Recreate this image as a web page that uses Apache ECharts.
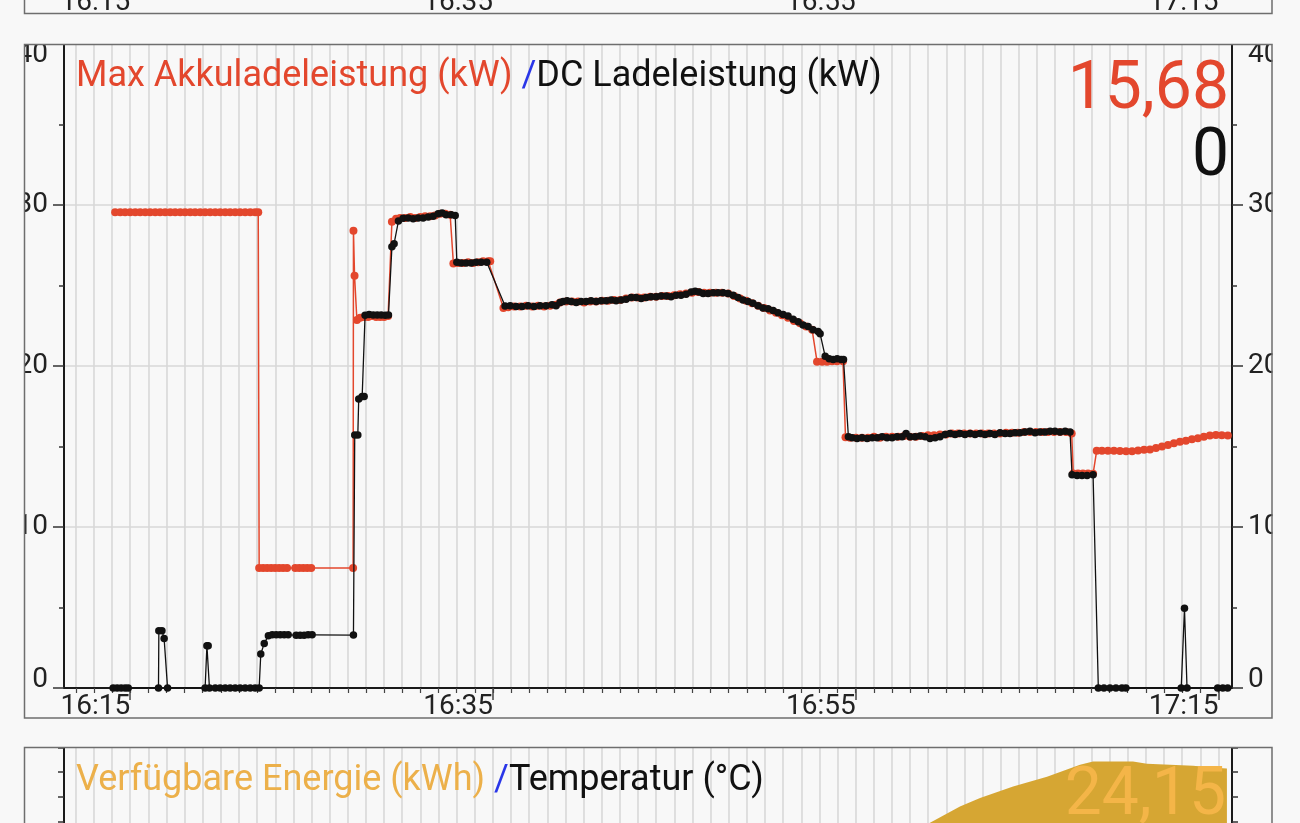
<!DOCTYPE html>
<html>
<head>
<meta charset="utf-8">
<script src="https://cdn.jsdelivr.net/npm/echarts@6/dist/echarts.min.js"></script>
<style>
html,body{margin:0;padding:0;background:#f8f8f8;}
#chart{width:1300px;height:823px;}
</style>
</head>
<body>
<div id="chart"></div>
<script>
// time = minutes after 16:00
const xLabelMinutes = [15, 35, 55, 75];
const legendMax = 'Max Akkuladeleistung (kW) ';
const legendDc = 'DC Ladeleistung (kW)';
const legendEnergy = 'Verfügbare Energie (kWh) ';
const legendTemp = 'Temperatur (°C)';

const maxPower = [
[14.17,29.55],[14.45,29.55],[14.72,29.55],[15.00,29.55],[15.28,29.55],[15.55,29.55],[15.83,29.55],[16.10,29.55],[16.38,29.55],[16.65,29.55],[16.93,29.55],[17.21,29.55],[17.48,29.55],[17.76,29.55],[18.03,29.55],[18.31,29.55],[18.58,29.55],[18.86,29.55],[19.13,29.55],[19.41,29.55],[19.69,29.55],[19.96,29.55],[20.24,29.55],[20.51,29.55],[20.79,29.55],[21.06,29.55],[21.34,29.55],[21.62,29.55],[21.89,29.55],[22.06,29.55],
[22.11,7.45],[22.33,7.45],[22.55,7.45],[22.77,7.45],[22.99,7.45],[23.21,7.45],[23.43,7.45],[23.65,7.45],[24.10,7.45],[24.32,7.45],[24.54,7.45],[24.76,7.45],[24.98,7.45],[27.29,7.45],
[27.31,28.4],[27.37,25.6],[27.50,22.86],[27.68,23.0],[27.90,23.05],[28.12,23.05],[28.34,23.1],[28.56,23.05],[28.78,23.05],[29.00,23.05],[29.22,23.1],
[29.43,28.96],[29.66,29.15],[29.88,29.2],[30.16,29.2],[30.44,29.25],[30.71,29.2],[30.99,29.25],[31.26,29.3],[31.54,29.3],[31.81,29.35],[32.09,29.45],[32.37,29.45],[32.64,29.4],
[32.82,26.37],[33.08,26.4],[33.36,26.4],[33.63,26.45],[33.91,26.4],[34.18,26.45],[34.46,26.5],[34.74,26.5],[34.85,26.5],
[35.58,23.6],[35.84,23.65],[36.17,23.7],[36.50,23.7],[36.83,23.75],[37.16,23.7],[37.49,23.75],[37.82,23.7],[38.15,23.75],[38.48,23.8],[38.70,23.95],[39.04,24.0],[39.37,24.0],[39.70,24.0],[40.03,23.95],[40.36,24.0],[40.69,24.0],[41.02,24.05],[41.35,24.05],[41.68,24.1],[42.01,24.1],[42.34,24.2],[42.67,24.25],[43.00,24.25],[43.34,24.25],[43.67,24.3],[44.00,24.3],[44.33,24.35],[44.66,24.35],[44.99,24.4],[45.32,24.45],[45.65,24.5],[45.98,24.55],[46.31,24.6],[46.64,24.55],[46.97,24.55],[47.30,24.55],[47.63,24.55],[47.97,24.5],[48.30,24.35],[48.63,24.2],[48.96,24.05],[49.29,23.9],[49.62,23.75],[49.95,23.6],[50.28,23.45],[50.61,23.3],[50.94,23.15],[51.27,23.0],[51.60,22.8],[51.93,22.65],[52.27,22.45],[52.60,22.25],
[52.87,20.27],[53.15,20.27],[53.42,20.27],[53.70,20.3],[53.97,20.3],[54.30,20.3],
[54.44,15.57],[54.69,15.55],[55.02,15.55],[55.35,15.55],[55.68,15.55],[56.01,15.6],[56.34,15.55],[56.68,15.6],[57.01,15.6],[57.34,15.6],[57.67,15.65],[58.00,15.6],[58.33,15.6],[58.66,15.65],[58.99,15.7],[59.32,15.7],[59.65,15.75],[59.98,15.75],[60.31,15.8],[60.64,15.8],[60.98,15.8],[61.31,15.8],[61.64,15.8],[61.97,15.8],[62.30,15.8],[62.63,15.8],[62.96,15.8],[63.29,15.85],[63.62,15.85],[63.95,15.85],[64.28,15.9],[64.61,15.9],[64.94,15.9],[65.28,15.9],[65.61,15.9],[65.94,15.9],[66.27,15.9],[66.60,15.9],[66.91,15.8],
[67.00,13.33],[67.26,13.33],[67.53,13.33],[67.81,13.33],[68.09,13.3],
[68.29,14.74],[68.58,14.74],[68.91,14.74],[69.24,14.74],[69.57,14.72],[69.91,14.7],[70.24,14.7],[70.57,14.75],[70.90,14.8],[71.23,14.82],[71.56,14.9],[71.89,15.0],[72.22,15.1],[72.55,15.2],[72.88,15.3],[73.21,15.36],[73.54,15.45],[73.87,15.52],[74.20,15.6],[74.53,15.68],[74.86,15.72],[75.19,15.7],[75.52,15.68]
];

const dcPower = [
[14.06,0],[14.28,0],[14.50,0],[14.72,0],[14.89,0],[16.56,0],[16.58,3.56],[16.75,3.56],[16.87,3.08],[17.06,0],[19.13,0],[19.23,2.63],[19.30,2.63],[19.37,0],[19.69,0],[19.96,0],[20.24,0],[20.51,0],[20.79,0],[21.06,0],[21.34,0],[21.62,0],[21.89,0],[22.11,0],
[22.20,2.11],[22.39,2.77],[22.62,3.25],[22.83,3.3],[23.05,3.3],[23.27,3.3],[23.49,3.3],[23.71,3.3],[24.15,3.28],[24.37,3.28],[24.59,3.28],[24.81,3.3],[25.03,3.3],[27.31,3.29],
[27.38,15.71],[27.55,15.71],[27.60,17.95],[27.79,18.1],[27.90,18.1],[27.95,23.15],[28.17,23.2],[28.40,23.17],[28.62,23.17],[28.84,23.17],[29.06,23.15],[29.24,23.17],
[29.43,27.4],[29.55,27.6],[29.79,29.0],[30.05,29.17],[30.33,29.2],[30.60,29.15],[30.88,29.2],[31.15,29.2],[31.43,29.25],[31.70,29.3],[31.98,29.45],[32.20,29.5],[32.42,29.4],[32.70,29.4],[32.92,29.35],
[33.01,26.44],[33.25,26.4],[33.52,26.4],[33.80,26.4],[34.07,26.45],[34.35,26.45],[34.66,26.44],
[35.67,23.73],[35.95,23.75],[36.28,23.7],[36.61,23.7],[36.94,23.75],[37.27,23.7],[37.60,23.75],[37.93,23.75],[38.26,23.8],[38.48,23.75],[38.70,23.95],[38.87,24.0],[39.09,24.05],[39.31,24.0],[39.59,23.95],[39.86,24.0],[40.14,24.0],[40.41,24.05],[40.69,24.0],[40.96,24.05],[41.24,24.05],[41.52,24.1],[41.79,24.05],[42.07,24.1],[42.34,24.15],[42.62,24.25],[42.89,24.25],[43.17,24.2],[43.45,24.25],[43.72,24.3],[44.00,24.3],[44.27,24.35],[44.55,24.35],[44.82,24.3],[45.10,24.4],[45.37,24.4],[45.65,24.45],[45.93,24.6],[46.15,24.65],[46.37,24.6],[46.59,24.5],[46.86,24.5],[47.14,24.55],[47.41,24.55],[47.69,24.55],[47.96,24.5],[48.24,24.4],[48.51,24.25],[48.79,24.1],[49.07,24.0],[49.34,23.9],[49.62,23.75],[49.89,23.6],[50.17,23.55],[50.45,23.45],[50.72,23.3],[51.00,23.2],[51.27,23.1],[51.55,22.9],[51.83,22.75],[52.10,22.55],[52.38,22.45],[52.65,22.25],[52.93,22.15],[53.04,22.0],
[53.32,20.6],[53.54,20.45],[53.76,20.4],[53.98,20.45],[54.20,20.4],[54.33,20.4],
[54.60,15.6],[54.81,15.55],[55.08,15.5],[55.35,15.55],[55.63,15.5],[55.91,15.55],[56.18,15.55],[56.46,15.6],[56.73,15.55],[57.01,15.55],[57.28,15.6],[57.56,15.6],[57.78,15.8],[58.00,15.6],[58.27,15.6],[58.55,15.65],[58.83,15.6],[59.10,15.5],[59.38,15.55],[59.65,15.6],[59.93,15.75],[60.20,15.8],[60.48,15.75],[60.75,15.8],[61.03,15.75],[61.31,15.8],[61.58,15.75],[61.86,15.8],[62.13,15.75],[62.41,15.8],[62.68,15.75],[62.96,15.85],[63.24,15.8],[63.51,15.8],[63.79,15.85],[64.06,15.85],[64.34,15.9],[64.61,15.95],[64.89,15.85],[65.16,15.9],[65.44,15.9],[65.72,15.95],[65.99,15.95],[66.27,15.9],[66.55,15.95],[66.82,15.9],
[66.93,13.25],[67.21,13.2],[67.48,13.2],[67.76,13.2],[68.09,13.25],
[68.38,0],[68.69,0],[69.02,0],[69.35,0],[69.68,0],[69.90,0],[72.95,0],[73.13,4.95],[73.27,0],[74.96,0],[75.24,0],[75.51,0]
];

const energy = [
[14.06,9.4],[22.11,9.4],[27.31,9.7],[29.43,10.5],[32.92,12.2],[35.67,13.4],[45.0,17.2],[53.04,20.4],[54.60,20.9],[57.0,21.5],[59.10,21.95],[60.75,22.61],[61.86,22.96],[63.68,23.42],[65.55,23.82],[67.37,24.30],[68.09,24.43],[70.29,24.43],[71.06,24.34],[73.60,24.26],[75.24,24.16],[75.47,24.15]
];

const X_MIN = 11.35, X_MAX = 75.75;
const minuteTicks = [];
for (let m = 12; m <= 75; m++) minuteTicks.push(m);

const RED = '#e3472d', BLACK = '#111111', BLUE = '#2a36e8', GOLD = '#d6a633', ORANGE = '#ecb04a';
const BG = '#f8f8f8';
const FONT = 'Roboto, "Noto Sans", sans-serif';

function fmtTime(v) {
  const total = Math.round(v);
  const h = 16 + Math.floor(total / 60);
  const m = total % 60;
  return h + ':' + (m < 10 ? '0' : '') + m;
}
function fmtNum(v) { return String(v).replace('.', ','); }

const chart = echarts.init(document.getElementById('chart'), null, {renderer: 'canvas'});

const yLabelRich = {
  t: {padding: [22, 0, 0, 0], fontSize: 28, color: '#222', fontFamily: FONT},
  b: {padding: [0, 0, 16, 0], fontSize: 28, color: '#222', fontFamily: FONT}
};
function yFmt(v) { return v === 40 ? '{t|40}' : (v === 0 ? '{b|0}' : String(v)); }

const mainY = (pos, showSplit) => ({
  type: 'value', gridIndex: 0, position: pos, min: 0, max: 40, interval: 10,
  axisLine: {show: true, lineStyle: {color: '#1a1a1a', width: 2}},
  axisTick: {show: true, length: 11, lineStyle: {color: '#333', width: 1.5}},
  minorTick: {show: true, splitNumber: 2, length: 5, lineStyle: {color: '#333', width: 1.5}},
  splitLine: {show: showSplit, lineStyle: {color: '#d8d8d8', width: 1.5}},
  axisLabel: {show: true, margin: 16, fontSize: 28, color: '#222', fontFamily: FONT, formatter: yFmt, rich: yLabelRich}
});

const option = {
  backgroundColor: BG,
  animation: false,
  grid: [
    {left: 64, right: 68, top: 44, height: 644, outerBoundsMode: 'none', containLabel: false},
    {left: 64, right: 68, top: 747.5, height: 617.5, outerBoundsMode: 'none', containLabel: false},
    {left: 64, right: 68, top: -100, height: 83, outerBoundsMode: 'none', containLabel: false}
  ],
  xAxis: [
    {type: 'value', gridIndex: 0, min: X_MIN, max: X_MAX,
     axisLine: {show: true, onZero: false, lineStyle: {color: '#1a1a1a', width: 2}},
     axisTick: {show: true, length: 5, customValues: minuteTicks, lineStyle: {color: '#444', width: 1.2}},
     splitLine: {show: true, lineStyle: {color: '#d8d8d8', width: 1.6}},
     axisLabel: {show: true, customValues: xLabelMinutes, formatter: fmtTime, align: 'right', margin: 5,
                 fontSize: 28, color: '#222', fontFamily: FONT}},
    {type: 'value', gridIndex: 0, min: X_MIN, max: X_MAX, position: 'bottom',
     axisLine: {show: false},
     axisTick: {show: true, length: 12, customValues: xLabelMinutes, lineStyle: {color: '#444', width: 1.5}},
     splitLine: {show: false}, axisLabel: {show: false}},
    {type: 'value', gridIndex: 1, min: X_MIN, max: X_MAX,
     axisLine: {show: false},
     axisTick: {show: false, customValues: minuteTicks},
     splitLine: {show: true, lineStyle: {color: '#d8d8d8', width: 1.6}},
     axisLabel: {show: false}},
    {type: 'value', gridIndex: 2, min: X_MIN, max: X_MAX,
     axisLine: {show: false}, axisTick: {show: false}, splitLine: {show: false},
     axisLabel: {show: true, customValues: xLabelMinutes, formatter: fmtTime, align: 'right', margin: 6,
                 fontSize: 28, color: '#222', fontFamily: FONT}}
  ],
  yAxis: [
    mainY('left', true),
    mainY('right', false),
    {type: 'value', gridIndex: 1, position: 'left', min: 0, max: 25, interval: 1,
     axisLine: {show: true, lineStyle: {color: '#1a1a1a', width: 2}},
     axisTick: {show: true, length: 6, lineStyle: {color: '#333', width: 1.5}},
     splitLine: {show: false}, axisLabel: {show: false}},
    {type: 'value', gridIndex: 1, position: 'right', min: 0, max: 25, interval: 1,
     axisLine: {show: true, lineStyle: {color: '#1a1a1a', width: 2}},
     axisTick: {show: true, length: 6, lineStyle: {color: '#333', width: 1.5}},
     splitLine: {show: false}, axisLabel: {show: false}},
    {type: 'value', gridIndex: 2, show: false, min: 0, max: 40}
  ],
  series: [
    {name: 'Max Akkuladeleistung', type: 'line', xAxisIndex: 0, yAxisIndex: 0, data: maxPower,
     symbol: 'circle', symbolSize: 8, showSymbol: true, z: 3,
     lineStyle: {color: RED, width: 1.5}, itemStyle: {color: RED}},
    {name: 'DC Ladeleistung', type: 'line', xAxisIndex: 0, yAxisIndex: 0, data: dcPower,
     symbol: 'circle', symbolSize: 7.5, showSymbol: true, z: 4,
     lineStyle: {color: BLACK, width: 1.3}, itemStyle: {color: BLACK}},
    {name: 'Verfügbare Energie', type: 'line', xAxisIndex: 2, yAxisIndex: 2, data: energy,
     showSymbol: false, z: 3, lineStyle: {width: 0, color: GOLD}, areaStyle: {color: GOLD, opacity: 1}}
  ],
  graphic: [
    // masks outside the panels
    {type: 'rect', z: 90, silent: true, shape: {x: 0, y: 0, width: 24, height: 823}, style: {fill: BG}},
    {type: 'rect', z: 90, silent: true, shape: {x: 1272.5, y: 0, width: 28, height: 823}, style: {fill: BG}},
    {type: 'rect', z: 90, silent: true, shape: {x: 0, y: 13.5, width: 1300, height: 30.5}, style: {fill: BG}},
    {type: 'rect', z: 90, silent: true, shape: {x: 0, y: 718.5, width: 1300, height: 28.5}, style: {fill: BG}},
    // panel borders
    {type: 'rect', z: 100, silent: true, shape: {x: 24.5, y: -50, width: 1247.5, height: 63.5}, style: {fill: null, stroke: '#6e6e6e', lineWidth: 1.5}},
    {type: 'rect', z: 100, silent: true, shape: {x: 24.5, y: 44.5, width: 1247.5, height: 673.5}, style: {fill: null, stroke: '#6e6e6e', lineWidth: 1.5}},
    {type: 'rect', z: 100, silent: true, shape: {x: 24.5, y: 747.5, width: 1247.5, height: 120}, style: {fill: null, stroke: '#6e6e6e', lineWidth: 1.5}},
    // legends
    {type: 'text', z: 100, silent: true, x: 76, y: 77, style: {
      text: '{a|' + legendMax + '}{b|/}{c|' + legendDc + '}', verticalAlign: 'middle',
      rich: {a: {fill: RED, font: '36px ' + FONT}, b: {fill: BLUE, font: '36px ' + FONT}, c: {fill: BLACK, font: '36px ' + FONT}}}},
    {type: 'text', z: 100, silent: true, x: 1229, y: 91, style: {
      text: fmtNum(maxPower[maxPower.length - 1][1]), align: 'right', verticalAlign: 'middle', fill: RED, font: '66px ' + FONT}},
    {type: 'text', z: 100, silent: true, x: 1229, y: 158, style: {
      text: fmtNum(dcPower[dcPower.length - 1][1]), align: 'right', verticalAlign: 'middle', fill: BLACK, font: '66px ' + FONT}},
    {type: 'text', z: 100, silent: true, x: 76, y: 781, style: {
      text: '{a|' + legendEnergy + '}{b|/}{c|' + legendTemp + '}', verticalAlign: 'middle',
      rich: {a: {fill: ORANGE, font: '36px ' + FONT}, b: {fill: BLUE, font: '36px ' + FONT}, c: {fill: BLACK, font: '36px ' + FONT}}}},
    {type: 'text', z: 80, silent: true, x: 1226, y: 797, style: {
      text: fmtNum(energy[energy.length - 1][1]), align: 'right', verticalAlign: 'middle', fill: '#f4b548', font: '66px ' + FONT}}
  ]
};
chart.setOption(option);
</script>
</body>
</html>
